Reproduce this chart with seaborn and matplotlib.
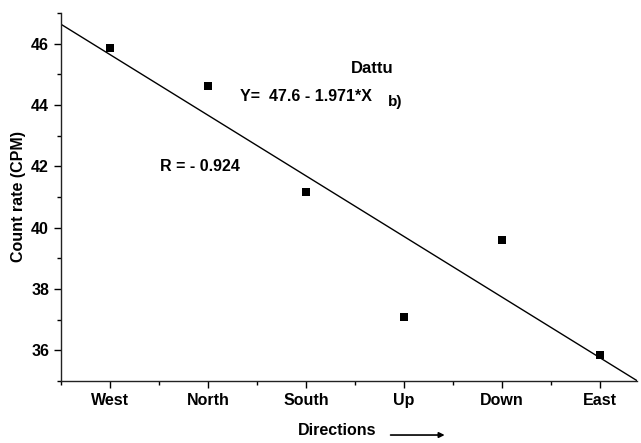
import numpy as np
import pandas as pd
import matplotlib
matplotlib.use("Agg")
import matplotlib.pyplot as plt
import seaborn as sns
from matplotlib.ticker import MultipleLocator

# data
directions = ["West", "North", "South", "Up", "Down", "East"]
positions = [1, 2, 3, 4, 5, 6]
count_rate = [45.86, 44.63, 41.16, 37.10, 39.59, 35.86]

df = pd.DataFrame({"pos": positions, "cpm": count_rate})

sns.set_style("ticks")
plt.rcParams["font.family"] = ["Liberation Sans", "DejaVu Sans"]
plt.rcParams["font.weight"] = "bold"
plt.rcParams["text.color"] = "black"
plt.rcParams["axes.labelcolor"] = "black"

fig = plt.figure(figsize=(6.41, 4.43), dpi=100)
ax = fig.add_axes([0.095, 0.14, 0.899, 0.831])

ax.set_xlim(0.5, 6.38)
ax.set_ylim(35, 47)

# linear fit drawn across the whole axis
sns.regplot(data=df, x="pos", y="cpm", ax=ax, ci=None, truncate=False,
            marker="s", color="black",
            scatter_kws={"s": 30, "linewidths": 0, "alpha": 1},
            line_kws={"lw": 1.0})

ax.set_xlim(0.5, 6.38)
ax.set_ylim(35, 47)

ax.set_xticks(positions)
ax.set_xticklabels(directions)
ax.xaxis.set_minor_locator(MultipleLocator(1, offset=0.5))
ax.yaxis.set_major_locator(MultipleLocator(2))
ax.yaxis.set_minor_locator(MultipleLocator(1))
ax.tick_params(which="major", direction="out", length=5, width=1,
               labelsize=11.5, colors="black")
ax.tick_params(which="minor", direction="out", length=3, width=1,
               colors="black")
for lbl in ax.get_xticklabels() + ax.get_yticklabels():
    lbl.set_fontweight("bold")

sns.despine(ax=ax)
for sp in ["left", "bottom"]:
    ax.spines[sp].set_linewidth(1.0)
    ax.spines[sp].set_color("#222222")

ax.set_xlabel("")
ax.set_ylabel("Count rate (CPM)", fontsize=11.5, fontweight="bold", labelpad=4)

fig.text(0.587, 0.012, "Directions", fontsize=11.5, fontweight="bold",
         ha="right", va="bottom")
fig.add_artist(matplotlib.patches.FancyArrowPatch(
    (0.605, 0.018), (0.698, 0.018), transform=fig.transFigure,
    arrowstyle="-|>", mutation_scale=8, lw=1.2, color="black"))

ax.text(0.54, 0.848, "Dattu", transform=ax.transAxes, fontsize=12,
        fontweight="bold", ha="center", va="center")
ax.text(0.31, 0.772, "Y=  47.6 - 1.971*X", transform=ax.transAxes,
        fontsize=11.5, fontweight="bold", ha="left", va="center")
ax.text(0.568, 0.758, "b)", transform=ax.transAxes, fontsize=11,
        fontweight="bold", ha="left", va="center")
ax.text(0.172, 0.582, "R = - 0.924", transform=ax.transAxes, fontsize=11.5,
        fontweight="bold", ha="left", va="center")

fig.savefig("out.png", dpi=100)
